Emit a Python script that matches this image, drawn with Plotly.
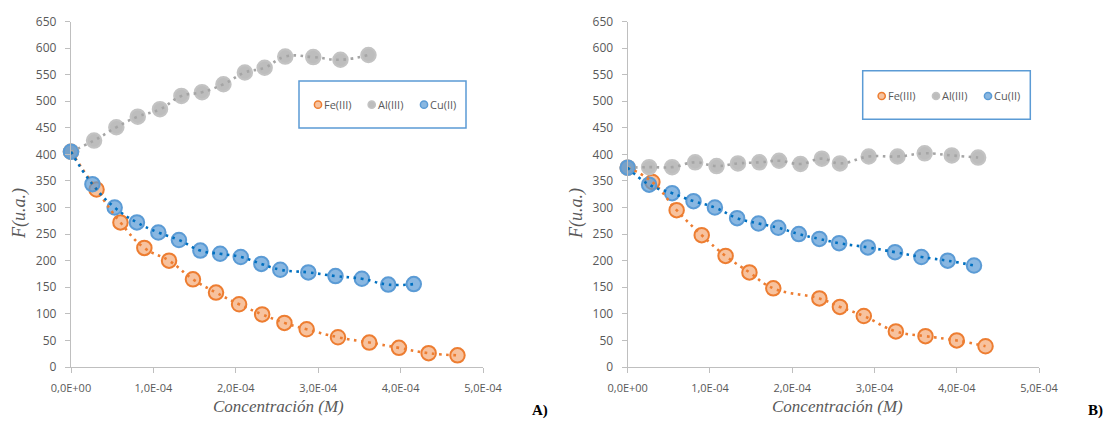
import plotly.graph_objects as go

W, H = 1107, 421

# ---------------- data ----------------
series_names = ["Fe(III)", "Al(III)", "Cu(II)"]

# Panel A
fe_a_x = [0, 0.31e-4, 0.60e-4, 0.89e-4, 1.19e-4, 1.48e-4, 1.76e-4, 2.04e-4, 2.32e-4, 2.59e-4,
          2.86e-4, 3.24e-4, 3.62e-4, 3.98e-4, 4.34e-4, 4.69e-4]
fe_a_y = [405, 334, 272, 224, 200, 165, 140, 118, 99, 83, 71, 56, 46, 36, 26, 22]

al_a_x = [0, 0.28e-4, 0.55e-4, 0.81e-4, 1.08e-4, 1.34e-4, 1.59e-4, 1.85e-4, 2.11e-4, 2.35e-4,
          2.60e-4, 2.94e-4, 3.27e-4, 3.61e-4]
al_a_y = [405, 426, 451, 471, 485, 510, 517, 532, 554, 563, 584, 583, 578, 587]

cu_a_x = [0, 0.26e-4, 0.53e-4, 0.80e-4, 1.06e-4, 1.31e-4, 1.57e-4, 1.81e-4, 2.06e-4, 2.31e-4,
          2.54e-4, 2.88e-4, 3.21e-4, 3.53e-4, 3.85e-4, 4.16e-4]
cu_a_y = [405, 344, 300, 272, 253, 239, 219, 213, 207, 194, 183, 178, 171, 166, 155, 156]

# Panel B
fe_b_x = [0, 0.30e-4, 0.595e-4, 0.90e-4, 1.19e-4, 1.48e-4, 1.77e-4, 2.33e-4, 2.58e-4, 2.87e-4,
          3.26e-4, 3.62e-4, 4.00e-4, 4.35e-4]
fe_b_y = [375, 348, 295, 248, 209, 178, 148, 129, 113, 96, 67, 58, 50, 39]

al_b_x = [0, 0.26e-4, 0.54e-4, 0.82e-4, 1.08e-4, 1.34e-4, 1.60e-4, 1.84e-4, 2.10e-4, 2.36e-4,
          2.58e-4, 2.93e-4, 3.28e-4, 3.61e-4, 3.94e-4, 4.26e-4]
al_b_y = [375, 376, 376, 385, 378, 383, 385, 388, 382, 392, 383, 396, 396, 402, 398, 394]

cu_b_x = [0, 0.26e-4, 0.54e-4, 0.80e-4, 1.06e-4, 1.33e-4, 1.59e-4, 1.83e-4, 2.08e-4, 2.33e-4,
          2.57e-4, 2.92e-4, 3.25e-4, 3.57e-4, 3.89e-4, 4.21e-4]
cu_b_y = [375, 343, 327, 312, 300, 280, 270, 262, 250, 241, 233, 225, 216, 207, 200, 191]

x_tickvals = [0, 1e-4, 2e-4, 3e-4, 4e-4, 5e-4]
x_ticktext = ["0,0E+00", "1,0E-04", "2,0E-04", "3,0E-04", "4,0E-04", "5,0E-04"]
y_tickvals = list(range(0, 651, 50))

x_title = "Concentración (M)"
y_title = "F(u.a.)"
panel_labels = ["A)", "B)"]

# ---------------- styles ----------------
marker_fill = ["rgba(244,170,120,0.72)", "rgba(172,172,172,0.8)", "rgba(91,155,213,0.72)"]
marker_line = ["#ED7D31", "rgba(195,195,195,1)", "#5B9BD5"]
trend_color = ["#ED7D31", "#A5A5A5", "#0070C0"]
GRAY = "#595959"
SERIF = "Liberation Serif"

def px(x):
    return x / W

def py(y):
    return 1 - y / H

fig = go.Figure()

panels = [
    ("x", "y", [(fe_a_x, fe_a_y), (al_a_x, al_a_y), (cu_a_x, cu_a_y)]),
    ("x2", "y2", [(fe_b_x, fe_b_y), (al_b_x, al_b_y), (cu_b_x, cu_b_y)]),
]

for xa, ya, sers in panels:
    for i, (xs, ys) in enumerate(sers):
        fig.add_trace(go.Scatter(
            x=xs, y=ys, mode="markers", xaxis=xa, yaxis=ya, showlegend=False,
            name=series_names[i], cliponaxis=False,
            marker=dict(size=14.5, color=marker_fill[i],
                        line=dict(color=marker_line[i], width=2)),
        ))
    for i, (xs, ys) in enumerate(sers):
        fig.add_trace(go.Scatter(
            x=xs, y=ys, mode="lines", xaxis=xa, yaxis=ya, showlegend=False,
            line=dict(color=trend_color[i], width=2.6, dash="2.6px,4.6px",
                      shape="spline", smoothing=1.3),
            hoverinfo="skip",
        ))

y_dom = [py(367), py(21.5)]
axis_common = dict(showgrid=False, zeroline=False, showline=True, linecolor="#BFBFBF",
                   linewidth=1.3, ticks="outside", tickcolor="#BFBFBF", ticklen=5,
                   tickwidth=1.3, automargin=False)

fig.update_layout(
    width=W, height=H, autosize=False,
    margin=dict(l=0, r=0, t=0, b=0, pad=0),
    paper_bgcolor="white", plot_bgcolor="white",
    showlegend=False,
    font=dict(family="Open Sans", color=GRAY),
    xaxis=dict(domain=[px(71), px(483)], range=[0, 5e-4], anchor="y",
               tickvals=x_tickvals, ticktext=x_ticktext,
               tickfont=dict(size=11, color=GRAY), ticklabelstandoff=6, **axis_common),
    yaxis=dict(domain=y_dom, range=[0, 650], anchor="x", tickvals=y_tickvals,
               tickfont=dict(size=12, color=GRAY), ticklabelstandoff=6, **axis_common),
    xaxis2=dict(domain=[px(627.7), px(1039)], range=[0, 5e-4], anchor="y2",
                tickvals=x_tickvals, ticktext=x_ticktext,
                tickfont=dict(size=11, color=GRAY), ticklabelstandoff=6, **axis_common),
    yaxis2=dict(domain=y_dom, range=[0, 650], anchor="x2", tickvals=y_tickvals,
                tickfont=dict(size=12, color=GRAY), ticklabelstandoff=6, **axis_common),
)

annotations = []
shapes = []

# axis titles and panel labels
for cx, lx in [(278, 19), (837, 576)]:
    annotations.append(dict(x=px(cx), y=py(406), xref="paper", yref="paper",
                            text=x_title, showarrow=False,
                            font=dict(family=SERIF, size=17, color=GRAY, style="italic"),
                            xanchor="center", yanchor="middle"))
    annotations.append(dict(x=px(lx), y=py(214), xref="paper", yref="paper",
                            text=y_title, showarrow=False, textangle=-90,
                            font=dict(family=SERIF, size=18, color=GRAY, style="italic"),
                            xanchor="center", yanchor="middle"))
for lab, plx in zip(panel_labels, [539.5, 1095]):
    annotations.append(dict(x=px(plx), y=py(410), xref="paper", yref="paper",
                            text=lab, showarrow=False,
                            font=dict(family=SERIF, size=15, color="black", weight="bold"),
                            xanchor="center", yanchor="middle"))

# hand-built legends (box, symbols, labels)
legend_boxes = [(299, 81, 466, 128, 104.7, [318, 371.7, 424]),
                (862.7, 70.7, 1030.3, 119.3, 96, [881.7, 936, 988])]
for x0, y0, x1, y1, cy, cxs in legend_boxes:
    shapes.append(dict(type="rect", xref="paper", yref="paper",
                       x0=px(x0), y0=py(y0), x1=px(x1), y1=py(y1),
                       line=dict(color="#5B9BD5", width=1.5), fillcolor="rgba(0,0,0,0)"))
    r = 3.6
    for i, cx in enumerate(cxs):
        shapes.append(dict(type="circle", xref="paper", yref="paper",
                           x0=px(cx - r), x1=px(cx + r), y0=py(cy - r), y1=py(cy + r),
                           fillcolor=marker_fill[i], line=dict(color=marker_line[i], width=1.5)))
        annotations.append(dict(x=px(cx + 4), y=py(cy), xref="paper", yref="paper",
                                text=series_names[i], showarrow=False,
                                font=dict(family="Open Sans", size=11, color=GRAY),
                                xanchor="left", yanchor="middle"))

fig.update_layout(annotations=annotations, shapes=shapes)

fig.write_html("out.html")
